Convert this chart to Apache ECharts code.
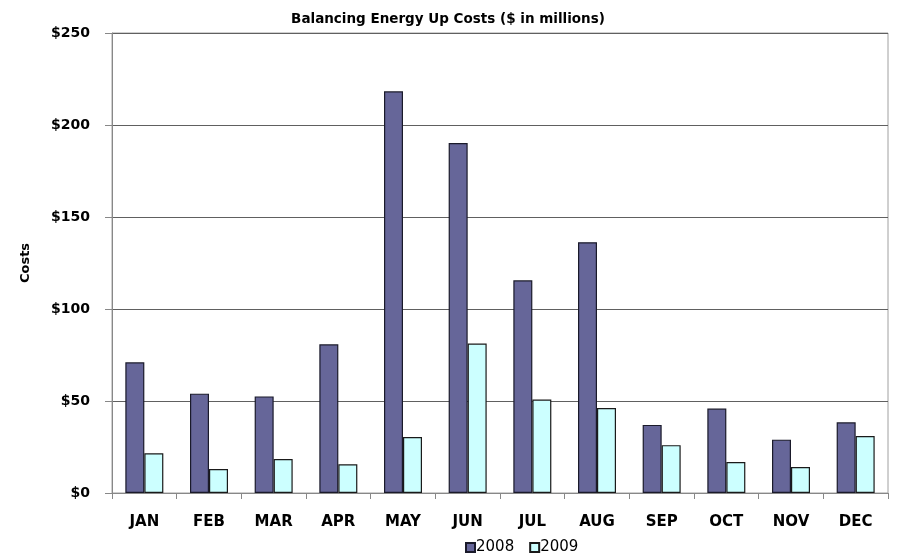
<!DOCTYPE html>
<html><head><meta charset="utf-8">
<script src="https://cdn.jsdelivr.net/npm/echarts@6/dist/echarts.min.js"></script>
<style>html,body{margin:0;padding:0;background:#fff}#c{width:898px;height:555px}</style>
</head><body><div id="c"></div>
<script>
const categories = ['JAN','FEB','MAR','APR','MAY','JUN','JUL','AUG','SEP','OCT','NOV','DEC'];
const costs2008 = [71, 54, 52.5, 80.8, 218.3, 190.2, 115.6, 136.3, 37, 45.9, 29, 38.4];
const costs2009 = [21.6, 13, 18.5, 15.6, 30.4, 81.2, 50.8, 46.2, 26, 16.8, 14.1, 31];
const yTicks = [0, 50, 100, 150, 200, 250];
const seriesNames = ['2008', '2009'];

const FONT = '"DejaVu Sans", sans-serif';
const chart = echarts.init(document.getElementById('c'), null, {renderer: 'canvas'});
chart.setOption({
  animation: false,
  backgroundColor: '#fff',
  title: {
    text: 'Balancing Energy Up Costs ($ in millions)',
    left: 443, top: 7, textAlign: 'center',
    textStyle: {fontFamily: FONT, fontSize: 13.5, fontWeight: 'bold', color: '#000'}
  },
  legend: {
    data: seriesNames, top: 535, left: 460,
    itemWidth: 9, itemHeight: 9, itemGap: 15,
    textStyle: {fontFamily: FONT, fontSize: 15, color: '#000', padding: [0,0,0,-4]},
    icon: 'rect'
  },
  grid: {left: 112, right: 10, top: 33, bottom: 62, show: true, borderColor: '#a0a0a0', borderWidth: 1},
  xAxis: {
    type: 'category', data: categories,
    axisLine: {lineStyle: {color: '#888', width: 1}},
    axisTick: {show: true, length: 6, lineStyle: {color: '#888'}},
    axisLabel: {fontFamily: FONT, fontSize: 15, fontWeight: 'bold', color: '#000', margin: 22}
  },
  yAxis: {
    type: 'value', min: yTicks[0], max: yTicks[yTicks.length-1], interval: 50,
    name: 'Costs', nameLocation: 'middle', nameGap: 80, nameRotate: 90,
    nameTextStyle: {fontFamily: FONT, fontSize: 13, fontWeight: 'bold', color: '#000'},
    axisLine: {show: true, lineStyle: {color: '#888'}},
    axisTick: {show: true, length: 7, lineStyle: {color: '#888'}},
    axisLabel: {fontFamily: FONT, fontSize: 14, fontWeight: 'bold', color: '#000', margin: 22,
      formatter: v => '$' + v},
    splitLine: {lineStyle: {color: '#606060', width: 1}}
  },
  series: [
    {name: seriesNames[0], type: 'bar', data: costs2008, barWidth: 19, barGap: '0%',
     itemStyle: {color: '#666699', borderColor: '#1a1a2a', borderWidth: 1.2}},
    {name: seriesNames[1], type: 'bar', data: costs2009, barWidth: 19,
     itemStyle: {color: '#ccffff', borderColor: '#1a1a1a', borderWidth: 1.2}}
  ]
});
</script></body></html>
